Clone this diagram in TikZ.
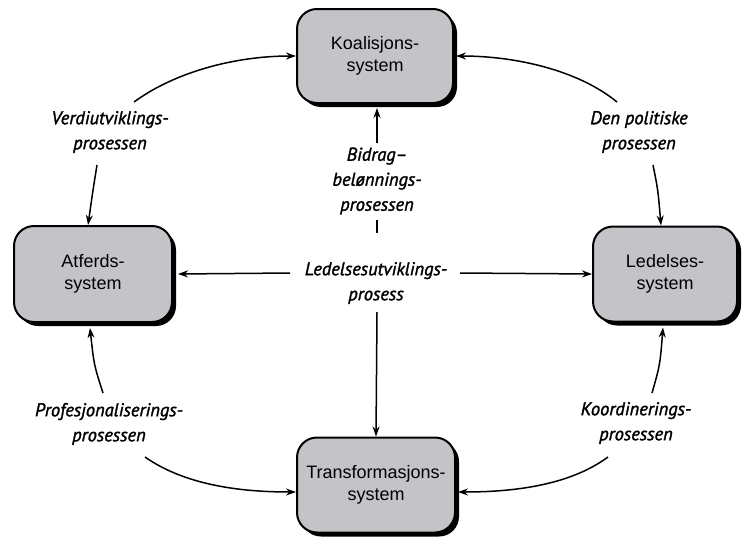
\documentclass[tikz,border=0pt]{standalone}
\usepackage{fontspec}
\setmainfont{Liberation Sans}
\newfontfamily\labfont[FakeBold=1.6]{PT Sans}
\usetikzlibrary{arrows.meta,shadows}
\definecolor{boxgray}{RGB}{196,196,200}
\tikzset{
  sysbox/.style={draw=black, line width=2pt, fill=boxgray, rounded corners=20pt,
    minimum width=#1, align=center, inner sep=0pt,
    font=\fontsize{18}{22}\selectfont,
    drop shadow={shadow xshift=4pt, shadow yshift=-4pt, fill=black, opacity=1}},
  proc/.style={align=center, inner sep=0pt, font=\labfont\itshape\fontsize{18.5}{25}\selectfont},
  arr/.style={line width=1.5pt, -{Stealth[length=10pt,width=7pt]}},
  ln/.style={line width=1.5pt}
}
\begin{document}
\begin{tikzpicture}[x=1pt,y=-1pt]
\useasboundingbox (0,0) rectangle (744,541);
% boxes
\node[sysbox=156pt, minimum height=94pt] (koal) at (375,56) {Koalisjons-\\system};
\node[sysbox=158pt, minimum height=96pt] (lb) at (93,274) {Atferds-\\system};
\node[sysbox=144pt, minimum height=95pt] (rb) at (665,274) {Ledelses-\\system};
\node[sysbox=158pt, minimum height=95pt] (bb) at (376,485) {Transformasjons-\\system};
% labels
\node[proc] (verd) at (110,132) {Verdiutviklings-\\prosessen};
\node[proc] (pol) at (639,132) {Den politiske\\prosessen};
\node[proc] (bid) at (377,181) {Bidrag–\\belønnings-\\prosessen};
\node[proc] (led) at (376,283) {Ledelsesutviklings-\\prosess};
\node[proc] (prof) at (109,424) {Profesjonaliserings-\\prosessen};
\node[proc] (koord) at (636,423) {Koordinerings-\\prosessen};
% free ends
\coordinate (v1) at (134,102);
\coordinate (v2) at (97,165);
\coordinate (p1) at (617,102);
\coordinate (p2) at (653,165);
\coordinate (b1) at (377,143);
\coordinate (t1) at (377,220);
\coordinate (t2) at (377,233);
\coordinate (l1) at (290,273);
\coordinate (l2) at (460,273);
\coordinate (l3) at (377,312);
\coordinate (f1) at (103,393);
\coordinate (f2) at (145,457);
\coordinate (k1) at (652,393);
\coordinate (k2) at (608,457);
% connectors
\draw[arr] (v1) .. controls (175,72) and (235,56) .. (koal.west);
\draw[arr] (v2) .. controls (93,190) .. ([xshift=-5pt]lb.north);
\draw[arr] (p1) .. controls (578,70) and (515,56) .. ([xshift=2pt]koal.east);
\draw[arr] (p2) .. controls (658,190) .. ([xshift=-4pt]rb.north);
\draw[arr] (b1) -- ([xshift=2pt,yshift=-4pt]koal.south);
\draw[ln] (t1) -- (t2);
\draw[arr] (l1) -- ([xshift=5pt]lb.east);
\draw[arr] (l2) -- (rb.west);
\draw[arr] (l3) -- (bb.north);
\draw[arr] (f1) .. controls (94,365) .. ([xshift=-3pt,yshift=-5pt]lb.south);
\draw[arr] (f2) .. controls (185,485) and (240,492) .. ([yshift=-7pt]bb.west);
\draw[arr] (k1) .. controls (660,365) .. ([xshift=-2pt,yshift=-5pt]rb.south);
\draw[arr] (k2) .. controls (570,485) and (515,492) .. ([xshift=2pt,yshift=-7pt]bb.east);
\end{tikzpicture}
\end{document}
